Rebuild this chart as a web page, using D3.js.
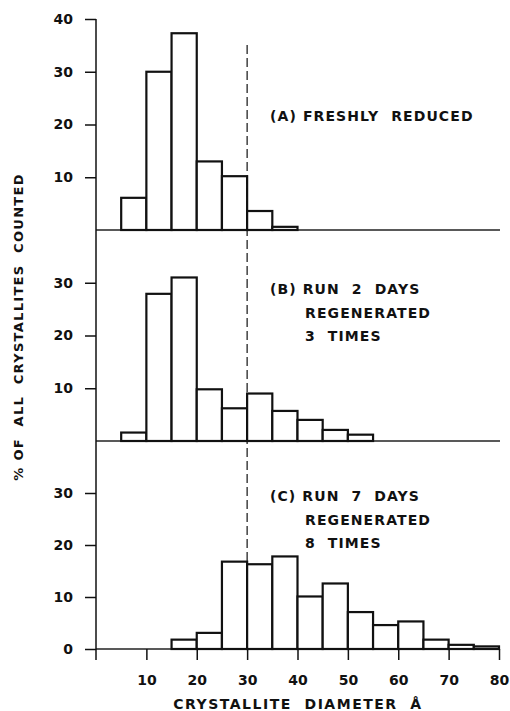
<!DOCTYPE html>
<html>
<head>
<meta charset="utf-8">
<script src="https://cdn.jsdelivr.net/npm/d3@7"></script>
<style>
    body { margin: 0; background: #fff; }
    text { font-family: "DejaVu Sans", sans-serif; font-weight: bold; fill: #111; white-space: pre; }
</style>
</head>
<body>
<div id="chart"></div>
<script>
// Bin starts (5 A wide bins), values in % of crystallites counted
const binStarts = [5, 10, 15, 20, 25, 30, 35, 40, 45, 50, 55, 60, 65, 70, 75];
const freshlyReduced = [6.1, 30.0, 37.3, 13.0, 10.2, 3.6, 0.6, 0, 0, 0, 0, 0, 0, 0, 0];
const run2Days = [1.6, 27.9, 31.0, 9.8, 6.2, 9.0, 5.7, 4.0, 2.1, 1.2, 0, 0, 0, 0, 0];
const run7Days = [0, 0, 1.8, 3.1, 16.8, 16.3, 17.8, 10.1, 12.6, 7.1, 4.6, 5.3, 1.8, 0.8, 0.5];

const xTicks = [10, 20, 30, 40, 50, 60, 70, 80];
const panelLabels = [
    ["(A) FRESHLY  REDUCED"],
    ["(B) RUN  2  DAYS", "REGENERATED", "3  TIMES"],
    ["(C) RUN  7  DAYS", "REGENERATED", "8  TIMES"]
];
const panelTicks = [[10, 20, 30, 40], [10, 20, 30], [0, 10, 20, 30]];

const width = 510, height = 711;
const binWidth = 5;

const svg = d3.select("#chart").append("svg")
    .attr("width", width)
    .attr("height", height);

const xScale = d3.scaleLinear().domain([0, 80]).range([96, 499]);

// Each panel: baseline and top (value 40) in px
const panels = [
    { data: freshlyReduced, base: 230, top: 19 },
    { data: run2Days, base: 441, top: 230 },
    { data: run7Days, base: 649, top: 441 }
];

panels.forEach((p, i) => {
    const yScale = d3.scaleLinear().domain([0, 40]).range([p.base, p.top]);
    const g = svg.append("g");

    // Y ticks and labels
    const yAxis = g.append("g")
        .attr("transform", `translate(${xScale(0)},0)`)
        .call(d3.axisLeft(yScale).tickValues(panelTicks[i]).tickSize(11).tickPadding(12));
    yAxis.select(".domain").remove();
    yAxis.selectAll(".tick line").attr("stroke", "#111").attr("stroke-width", 1.5);
    yAxis.selectAll("text")
        .style("font-size", "14px")
        .style("font-family", "DejaVu Sans")
        .style("font-weight", "bold");

    // Baseline
    g.append("line")
        .attr("x1", xScale(0))
        .attr("x2", xScale(80) + 1)
        .attr("y1", yScale(0))
        .attr("y2", yScale(0))
        .attr("stroke", "#222")
        .attr("stroke-width", 1.5);

    // Bars
    const dataArr = binStarts.map((b, j) => ({ key: b, value: p.data[j] }))
        .filter((d) => d.value > 0);

    g.selectAll("bar")
    .data(dataArr)
    .join("rect")
        .attr("x", (d) => xScale(d.key))
        .attr("y", (d) => yScale(d.value))
        .attr("width", xScale(binWidth) - xScale(0))
        .attr("height", (d) => yScale(0) - yScale(d.value))
        .attr("fill", "white")
        .attr("stroke", "#111")
        .attr("stroke-width", 2.2);

    // Panel annotation
    const baseY = [121, 294, 501][i];
    panelLabels[i].forEach((line, k) => {
        g.append("text")
            .text(line)
            .attr("x", k === 0 ? 270 : 305)
            .attr("y", baseY + k * 23.5)
            .style("font-size", "14px")
            .style("letter-spacing", "1.1px");
    });
});

// Dashed reference line at 30 A
svg.append("line")
    .attr("x1", xScale(30))
    .attr("x2", xScale(30))
    .attr("y1", 45)
    .attr("y2", 649)
    .attr("stroke", "#111")
    .attr("stroke-width", 1.2)
    .attr("stroke-dasharray", "9,4");

// Y axis line through all panels
svg.append("line")
    .attr("x1", xScale(0))
    .attr("x2", xScale(0))
    .attr("y1", 19)
    .attr("y2", 660)
    .attr("stroke", "#111")
    .attr("stroke-width", 1.5);

// Bottom X axis
const xAxis = svg.append("g")
    .attr("transform", `translate(0,649)`)
    .call(d3.axisBottom(xScale).tickValues(xTicks).tickSize(11).tickPadding(15));
xAxis.select(".domain").remove();
xAxis.selectAll(".tick line").attr("stroke", "#111").attr("stroke-width", 1.5);
xAxis.selectAll("text")
    .style("font-size", "14px")
    .style("font-family", "DejaVu Sans")
    .style("font-weight", "bold");

// Axis titles
svg.append("text")
    .text("CRYSTALLITE  DIAMETER  Å")
    .attr("x", 298)
    .attr("y", 709)
    .style("text-anchor", "middle")
    .style("font-size", "14px")
    .style("letter-spacing", "1.5px");

svg.append("text")
    .text("% OF  ALL  CRYSTALLITES  COUNTED")
    .attr("transform", "translate(23,327)rotate(-90)")
    .style("text-anchor", "middle")
    .style("font-size", "13px")
    .style("letter-spacing", "1.3px");
</script>
</body>
</html>
